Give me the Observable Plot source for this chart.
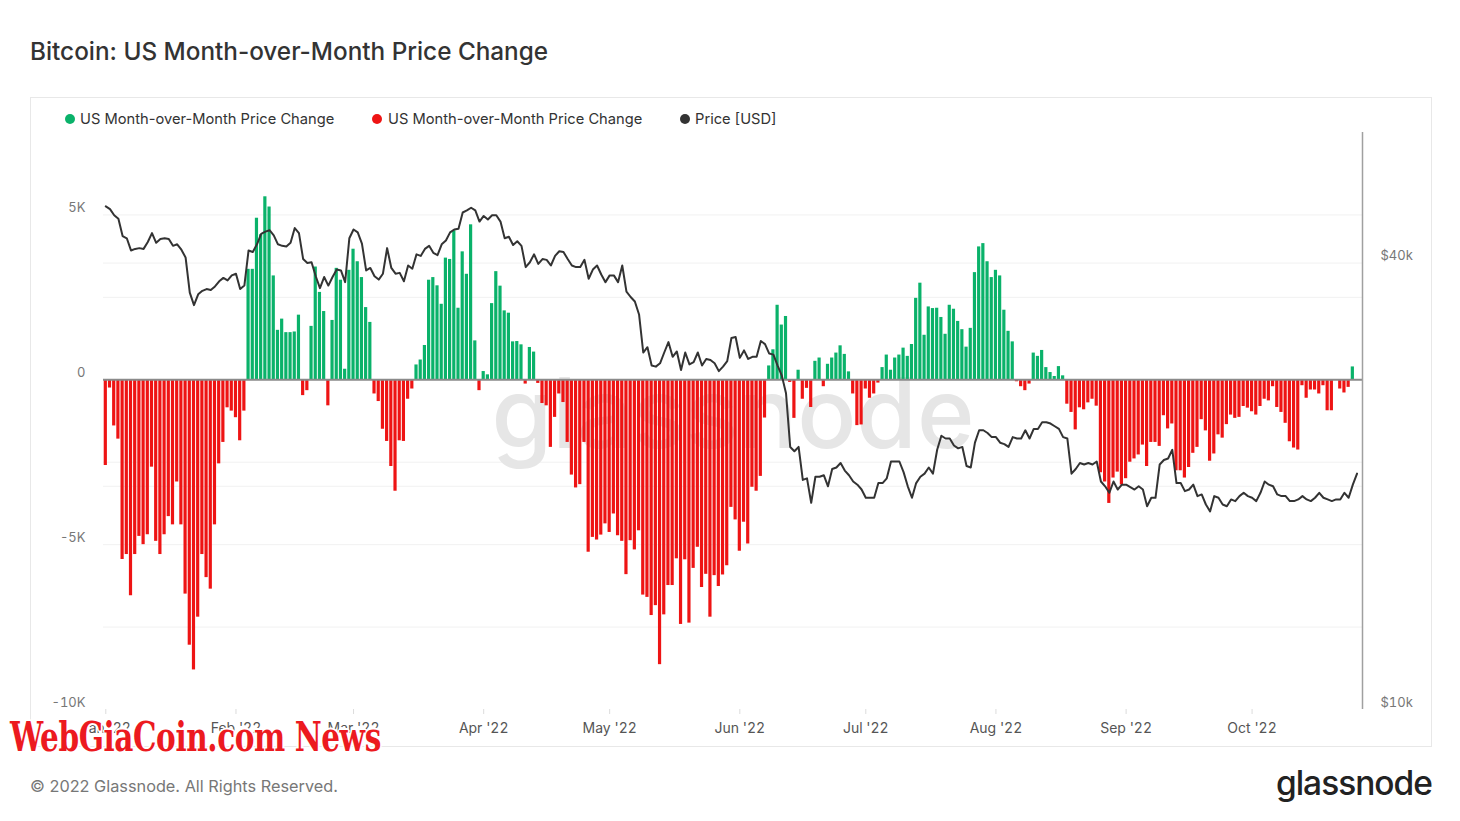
<!DOCTYPE html>
<html>
<head>
<meta charset="utf-8">
<script src="https://cdn.jsdelivr.net/npm/d3@7"></script>
<script src="https://cdn.jsdelivr.net/npm/@observablehq/plot@0.6"></script>
<style>
  body { margin: 0; background: #fff; font-family: Inter, "Noto Sans", sans-serif; }
  #page { position: relative; width: 1460px; height: 821px; overflow: hidden; background: #fff; }
  #title { position: absolute; left: 30px; top: 37px; font-size: 24.3px; line-height: 28px; font-weight: 500; color: #333; }
  #panel { position: absolute; left: 30px; top: 97px; width: 1400px; height: 648px; border: 1px solid #e8e8e8; }
  #chart { position: absolute; left: 30px; top: 97px; }
  .leg { position: absolute; top: 110px; font-size: 14.7px; line-height: 18px; color: #333; white-space: nowrap; }
  .dot { position: absolute; width: 10px; height: 10px; border-radius: 50%; top: 114px; }
  #footer { position: absolute; left: 30px; top: 775px; font-size: 16.3px; line-height: 22px; color: #777; }
  #logo { position: absolute; right: 28px; top: 762px; font-size: 33.5px; line-height: 42px; font-weight: 500; color: #222; letter-spacing: -1px; }
  #wgc { position: absolute; left: 10px; top: 712px; font-family: "DejaVu Serif Condensed", "DejaVu Serif", serif; font-stretch: condensed; font-weight: bold; font-size: 41px; line-height: 50px; color: #ec1a1f; letter-spacing: -0.5px; white-space: nowrap;
         transform: scaleX(0.8); transform-origin: left top;
         text-shadow: 1px 1px 0 #fff, -1px -1px 0 #fff, 1px -1px 0 #fff, -1px 1px 0 #fff, 2px 0 0 #fff, -2px 0 0 #fff, 0 2px 0 #fff, 0 -2px 0 #fff; }
</style>
</head>
<body>
<div id="page">
  <div id="title">Bitcoin: US Month-over-Month Price Change</div>
  <div id="panel"></div>
  <div id="chart"></div>
  <div class="dot" style="left:65px;background:#0ab26a"></div>
  <div class="leg" style="left:80px">US Month-over-Month Price Change</div>
  <div class="dot" style="left:372px;background:#ee1414"></div>
  <div class="leg" style="left:388px">US Month-over-Month Price Change</div>
  <div class="dot" style="left:680px;background:#333"></div>
  <div class="leg" style="left:695px">Price [USD]</div>
  <div id="footer">© 2022 Glassnode. All Rights Reserved.</div>
  <div id="logo">glassnode</div>
  <div id="wgc">WebGiaCoin.com News</div>
</div>
<script>
// ---- Data ----
// US month-over-month price change, in thousands (K), one value per day from 2022-01-01
const momJan = [-2.6, -0.25, -1.4, -1.8, -5.45, -5.3, -6.55, -5.3, -4.75, -5.0, -4.7, -2.65, -4.9, -5.3, -4.7, -4.15, -4.4, -3.1, -4.4, -6.5, -8.05, -8.8, -7.2, -5.3, -6.0, -6.35, -4.4, -2.55, -1.9, -0.85, -0.95];
const momFeb = [-1.15, -1.85, -0.95, 3.35, 3.35, 4.9, 4.4, 5.55, 5.24, 3.15, 1.5, 1.84, 1.43, 1.43, 1.45, 1.96, -0.48, -0.33, 1.62, 3.42, 2.65, 2.07, -0.79, 1.8, 3.38, 3.02, 0.32, 3.32];
const momMar = [3.96, 3.58, 3.1, 2.19, 1.74, -0.43, -0.66, -1.5, -1.87, -2.63, -3.38, -1.85, -1.87, -0.59, -0.28, 0.45, 0.6, 1.04, 3.02, 3.1, 2.85, 2.29, 3.69, 3.65, 4.52, 2.17, 3.88, 3.2, 4.7, 1.18, -0.33];
const momApr = [0.25, 0.15, 2.31, 3.28, 2.84, 2.09, 2.02, 1.15, 1.16, 1.06, -0.13, 0.98, 0.84, -0.11, -0.72, -0.79, -2.05, -1.14, -0.43, -0.69, -1.9, -2.89, -3.28, -3.18, -1.9, -5.23, -4.78, -4.86, -4.71, -4.37];
const momMay = [-4.63, -4.07, -4.73, -4.9, -5.91, -4.88, -5.16, -4.58, -6.53, -6.6, -7.15, -6.85, -8.64, -7.13, -6.24, -6.24, -5.43, -7.42, -5.46, -7.38, -5.72, -5.08, -6.3, -5.9, -7.2, -5.94, -6.27, -5.92, -5.64, -3.87, -4.25];
const momJun = [-5.2, -4.32, -4.98, -3.26, -3.38, -2.93, -1.16, 0.42, 0.91, 2.26, 1.66, 1.92, -0.08, -1.17, 0.29, -0.59, -0.26, -0.84, 0.56, 0.66, -0.21, 0.47, 0.66, 0.81, 1.03, 0.77, 0.24, -0.43, -1.39, -1.37];
const momJul = [-0.28, -0.56, -0.43, -0.1, 0.37, 0.75, 0.29, 0.66, 0.75, 0.96, 0.71, 1.07, 2.47, 2.93, 1.35, 2.21, 2.16, 2.17, 1.89, 1.38, 2.26, 2.14, 1.77, 1.52, 0.99, 1.56, 3.25, 4.03, 4.13, 3.58, 3.1];
const momAug = [3.32, 3.15, 2.11, 1.47, 1.15, -0.06, -0.21, -0.33, -0.13, 0.81, 0.71, 0.89, 0.37, 0.22, 0.1, 0.4, 0.12, -0.74, -0.99, -1.52, -0.85, -0.91, -0.7, -0.59, -0.8, -2.82, -3.1, -3.75, -2.98, -2.8, -3.19];
const momSep = [-3.0, -2.5, -2.4, -2.28, -1.98, -2.63, -1.9, -1.9, -2.02, -1.09, -1.49, -1.34, -2.76, -2.76, -2.98, -2.66, -2.23, -2.05, -1.21, -1.55, -2.47, -2.25, -1.67, -1.77, -1.36, -1.07, -1.17, -1.14, -0.81, -0.86];
const momOct = [-0.97, -1.07, -0.81, -0.59, -0.64, -0.21, -0.84, -0.99, -1.32, -1.88, -2.07, -2.13, -0.18, -0.56, -0.31, -0.31, -0.43, -0.18, -0.94, -0.94, -0.02, -0.28, -0.4, -0.23, 0.39];

// BTC price in thousands of USD, one value per day from 2022-01-01
const priceJan = [47.7, 47.3, 46.4, 45.9, 43.5, 43.2, 41.6, 41.8, 41.9, 41.8, 42.7, 43.9, 42.6, 43.1, 43.2, 43.1, 42.2, 42.4, 41.7, 40.7, 36.5, 35.1, 36.3, 36.7, 36.9, 36.8, 37.2, 37.8, 38.2, 37.9, 38.5];
const priceFeb = [38.7, 36.9, 37.3, 41.6, 41.4, 42.4, 43.8, 44.1, 44.3, 43.6, 42.4, 42.2, 42.1, 42.6, 44.6, 43.9, 40.5, 40.0, 40.1, 38.4, 37.0, 38.3, 37.3, 38.3, 39.2, 39.1, 37.7, 43.2];
const priceMar = [44.4, 44.0, 42.5, 39.1, 39.4, 38.4, 38.0, 38.7, 41.9, 39.4, 38.7, 38.8, 37.8, 39.7, 39.3, 41.1, 40.9, 41.8, 42.2, 41.3, 41.0, 42.4, 42.9, 44.0, 44.4, 44.5, 46.8, 47.1, 47.5, 47.1, 45.5];
const priceApr = [46.3, 45.8, 46.4, 46.4, 45.5, 43.2, 43.4, 42.3, 42.8, 42.2, 39.5, 40.1, 41.1, 39.9, 40.5, 40.4, 39.7, 40.9, 41.5, 41.4, 40.5, 39.7, 39.5, 39.5, 40.4, 38.1, 39.2, 39.7, 38.6, 37.7];
const priceMay = [38.5, 38.5, 37.7, 39.7, 36.6, 36.0, 35.5, 34.1, 30.3, 30.8, 29.1, 29.0, 29.3, 30.3, 31.3, 29.9, 30.4, 28.7, 30.3, 29.2, 29.4, 30.3, 29.1, 29.7, 29.6, 29.3, 28.6, 29.0, 29.5, 31.7, 31.8];
const priceJun = [29.8, 30.5, 29.7, 29.9, 29.9, 31.4, 31.1, 30.2, 30.1, 29.1, 28.2, 26.7, 22.6, 22.3, 22.6, 20.4, 20.5, 19.0, 20.6, 20.6, 20.7, 20.0, 21.1, 21.2, 21.5, 21.0, 20.7, 20.3, 20.1, 19.8];
const priceJul = [19.3, 19.3, 19.3, 20.2, 20.2, 20.5, 21.6, 21.6, 21.6, 20.9, 20.0, 19.3, 20.2, 20.6, 20.8, 21.2, 20.8, 22.4, 23.4, 23.2, 23.2, 22.7, 22.5, 22.6, 21.3, 21.2, 22.9, 23.8, 23.8, 23.6, 23.3];
const priceAug = [23.3, 22.9, 22.8, 22.6, 23.3, 23.2, 23.2, 23.8, 23.2, 23.9, 23.9, 24.4, 24.4, 24.3, 24.1, 23.9, 23.3, 23.2, 20.8, 21.1, 21.5, 21.4, 21.5, 21.4, 21.6, 20.3, 20.0, 19.6, 20.3, 19.8, 20.1];
const priceSep = [20.1, 19.95, 19.8, 20.0, 19.8, 18.8, 19.3, 19.3, 21.4, 21.7, 21.8, 22.4, 20.2, 20.2, 19.7, 19.8, 20.1, 19.4, 19.5, 18.9, 18.5, 19.4, 19.3, 18.9, 18.8, 19.2, 19.1, 19.4, 19.6, 19.4];
const priceOct = [19.3, 19.1, 19.6, 20.3, 20.1, 20.0, 19.5, 19.4, 19.4, 19.1, 19.1, 19.2, 19.4, 19.2, 19.1, 19.3, 19.6, 19.3, 19.2, 19.1, 19.2, 19.2, 19.6, 19.3, 20.1, 20.8];

// Axis ticks and labels
const leftTicks = [5, 0, -5, -10];
const leftGrid = [5, 2.5, -2.5, -5, -7.5];
const rightTicks = [40, 10];
const rightTickLabels = ["$40k", "$10k"];
const rightGrid = [40, 20];
const monthTicks = ["2022-01-01", "2022-02-01", "2022-03-01", "2022-04-01", "2022-05-01", "2022-06-01", "2022-07-01", "2022-08-01", "2022-09-01", "2022-10-01"];

// ---- Build tables ----
const GREEN = "#0ab26a", RED = "#ee1414", LINE = "#333333";
const DAY = 864e5;
const START = Date.UTC(2022, 0, 1);
const mom = [].concat(momJan, momFeb, momMar, momApr, momMay, momJun, momJul, momAug, momSep, momOct);
const price = [].concat(priceJan, priceFeb, priceMar, priceApr, priceMay, priceJun, priceJul, priceAug, priceSep, priceOct);
const bars = mom.map((v, i) => ({date: new Date(START + i * DAY), v}));
const prices = price.map((p, i) => ({date: new Date(START + i * DAY), p}));

// Left axis domain (K) and right log axis domain (k USD) share the vertical range
const Y_MIN = -10, Y_MAX = 7.5, P_MIN = 10, P_MAX = 60;
const toY = p => Y_MIN + (Y_MAX - Y_MIN) * Math.log(p / P_MIN) / Math.log(P_MAX / P_MIN);
const rightLabelMap = new Map(rightTicks.map((p, i) => [toY(p), rightTickLabels[i]]));

const xStart = new Date(START - 0.55 * DAY);
const xEnd = new Date(START + 299.3 * DAY);
const HALF = 0.38 * DAY;

const chart = Plot.plot({
  width: 1402,
  height: 650,
  marginLeft: 73,
  marginRight: 70,
  marginTop: 35,
  marginBottom: 38,
  style: {fontFamily: "Inter, 'Noto Sans', sans-serif", background: "transparent", overflow: "visible"},
  x: {type: "utc", domain: [xStart, xEnd], label: null},
  y: {domain: [Y_MIN, Y_MAX], label: null},
  marks: [
    Plot.ruleY(leftGrid, {stroke: "#f1f1f1", strokeWidth: 1}),
    Plot.ruleY(rightGrid.map(toY), {stroke: "#f1f1f1", strokeWidth: 1}),
    Plot.text(["glassnode"], {frameAnchor: "middle", dy: -4, fontSize: 98, fontWeight: 500, fill: "#e6e6e6", letterSpacing: -2}),
    Plot.rectY(bars.filter(d => d.v >= 0), {x1: d => new Date(+d.date - HALF), x2: d => new Date(+d.date + HALF), y1: 0, y2: "v", fill: GREEN}),
    Plot.rectY(bars.filter(d => d.v < 0), {x1: d => new Date(+d.date - HALF), x2: d => new Date(+d.date + HALF), y1: 0, y2: "v", fill: RED}),
    Plot.ruleY([0], {stroke: "#8a8a8a", strokeWidth: 2}),
    Plot.line(prices, {x: "date", y: d => toY(d.p), stroke: LINE, strokeWidth: 2, curve: "linear"}),
    Plot.ruleX([xEnd], {stroke: "#a0a0a0", strokeWidth: 1.5}),
    Plot.axisY(leftTicks, {anchor: "left", label: null, tickSize: 0, tickPadding: 18, dy: -7, fontSize: 13, fill: "#777",
      tickFormat: d => d === 0 ? "0" : `${d}K`}),
    Plot.axisY(rightTicks.map(toY), {anchor: "right", label: null, tickSize: 0, tickPadding: 18, dy: -7, fontSize: 13, fill: "#777",
      tickFormat: d => rightLabelMap.get(d)}),
    Plot.axisX(monthTicks.map(s => new Date(s)), {anchor: "bottom", label: null, tickSize: 5, tickPadding: 9, stroke: "#dcdcdc", fill: "#555", fontSize: 14,
      tickFormat: d3.utcFormat("%b '%y")})
  ]
});
document.getElementById("chart").appendChild(chart);
</script>
</body>
</html>
